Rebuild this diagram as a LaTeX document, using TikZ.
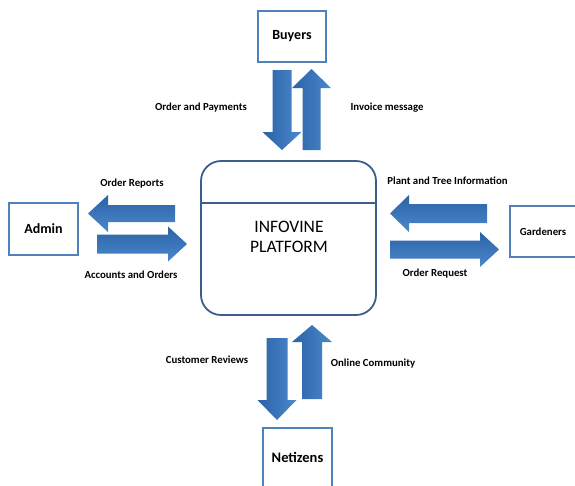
\documentclass[tikz,border=0pt]{standalone}
\usepackage{fontspec}
\setmainfont{Carlito}
\definecolor{boxblue}{HTML}{4F81BD}
\definecolor{platblue}{HTML}{3B5E8C}
\definecolor{arrowdark}{HTML}{2C62A6}
\definecolor{arrowlight}{HTML}{4A88CC}
\tikzset{
  entity/.style={draw=boxblue, line width=1.6pt, fill=white, inner sep=0pt, font=\fontsize{14}{16}\selectfont\bfseries},
  flowlabel/.style={font=\fontsize{10.8}{12}\selectfont\bfseries, inner sep=0pt},
  vfill/.style={left color=arrowdark, right color=arrowlight, draw=none},
  hfill/.style={top color=arrowdark, bottom color=arrowlight, draw=none}
}
% vertical block arrow: x centre, tail y, head base y, tip y, shaft half width, head half width
\newcommand{\vblock}[6]{%
  \path[vfill] (#1-#5,#2) -- (#1+#5,#2) -- (#1+#5,#3) -- (#1+#6,#3) -- (#1,#4) -- (#1-#6,#3) -- (#1-#5,#3) -- cycle;}
% horizontal block arrow: y centre, tail x, head base x, tip x, shaft half width, head half width
\newcommand{\hblock}[6]{%
  \path[hfill] (#2,#1-#5) -- (#2,#1+#5) -- (#3,#1+#5) -- (#3,#1+#6) -- (#4,#1) -- (#3,#1-#6) -- (#3,#1-#5) -- cycle;}
\begin{document}
\begin{tikzpicture}[x=1pt,y=-1pt]
\clip (0,0) rectangle (575,485);
\fill[white] (0,0) rectangle (575,485);
% entities
\node[entity, minimum width=68pt, minimum height=51pt] (buyers) at (292,36.5) {Buyers};
\node[entity, minimum width=69pt, minimum height=52pt] (admin) at (43.5,229) {Admin};
\node[entity, minimum width=80pt, minimum height=51pt] (gard) at (550,231.5) {};
\node[font=\fontsize{10.8}{12}\selectfont\bfseries] (gardtext) at (543,232) {Gardeners};
\node[entity, minimum width=69pt, minimum height=70pt] (net) at (297.5,463) {};
\node[font=\fontsize{14.5}{16}\selectfont\bfseries] (nettext) at (297.5,457) {Netizens};
% platform
\node[draw=platblue, line width=1.8pt, rounded corners=20pt, minimum width=175pt, minimum height=154pt, inner sep=0pt] (plat) at (288.5,238) {};
\draw[platblue, line width=1.5pt] (plat.west |- 0,203) -- (plat.east |- 0,203);
\node[align=center, font=\fontsize{17.5}{20}\selectfont] (plattext) at (289,237) {INFOVINE\\PLATFORM};
% buyers arrows
\vblock{282}{70}{132}{150}{9.5}{19.5}
\vblock{311.5}{150}{88}{69}{9}{19.5}
% admin arrows
\hblock{213.5}{175}{108}{88}{8.5}{18.5}
\hblock{244}{97}{168}{187}{9.5}{17.5}
% gardeners arrows
\hblock{213.5}{487}{409}{390}{9.5}{18.5}
\hblock{249.5}{390}{480}{499}{9}{17.5}
% netizens arrows
\vblock{277}{338}{400}{420}{10.5}{19.5}
\vblock{312}{399}{342}{325}{10}{20}
% labels
\node[flowlabel] (l1) at (201,108) {Order and Payments};
\node[flowlabel] (l2) at (387,108) {Invoice message};
\node[flowlabel] (l3) at (132,184) {Order Reports};
\node[flowlabel] (l4) at (131,275) {Accounts and Orders};
\node[flowlabel] (l5) at (447.5,181) {Plant and Tree Information};
\node[flowlabel] (l6) at (435,274) {Order Request};
\node[flowlabel] (l7) at (207,360) {Customer Reviews};
\node[flowlabel] (l8) at (373,364) {Online Community};
\end{tikzpicture}
\end{document}
